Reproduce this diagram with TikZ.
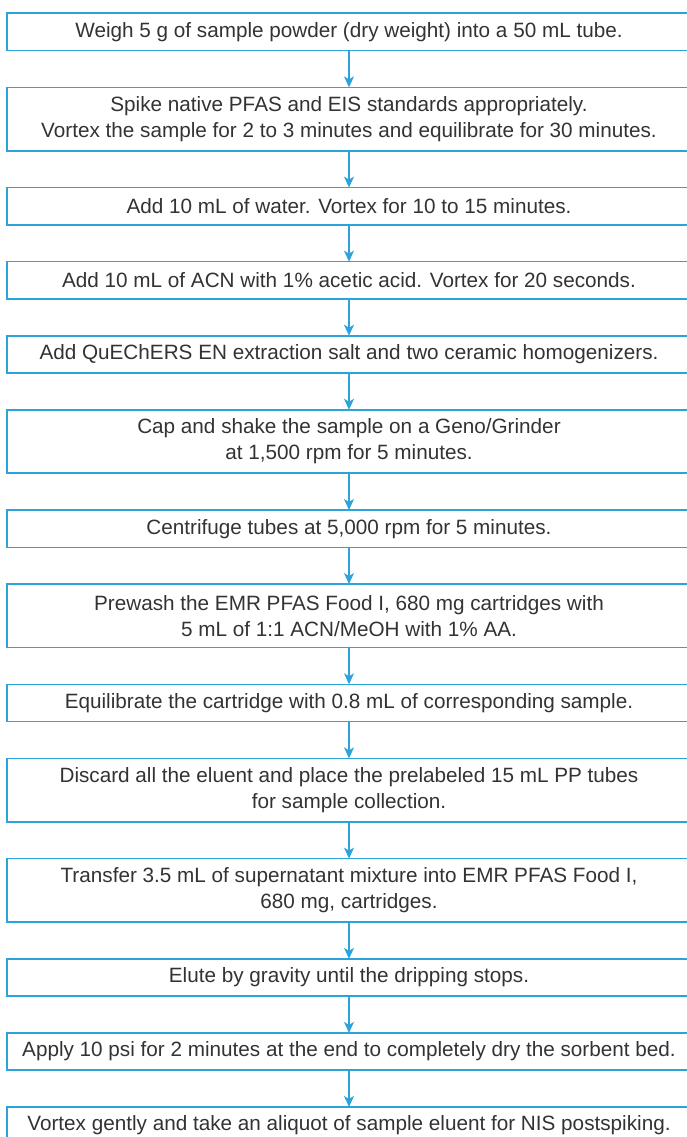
\documentclass[tikz,border=0pt]{standalone}
\usepackage{fontspec}
\setmainfont{Liberation Sans}
\usetikzlibrary{arrows.meta,positioning}
\definecolor{boxblue}{HTML}{2DA3DC}
\definecolor{txtgray}{HTML}{333333}
\begin{document}
\begin{tikzpicture}[x=1pt,y=1pt,
  stepbox/.style={draw=boxblue, line width=1.6pt, fill=white, text=txtgray,
    minimum width=684pt, align=center, inner sep=0pt, outer sep=0pt,
    font=\fontsize{20.7}{26}\selectfont},
  one/.style={stepbox, minimum height=37.3pt},
  two/.style={stepbox, minimum height=63.5pt},
  flow/.style={draw=boxblue, line width=1.2pt, -{Stealth[length=11pt,width=10pt,inset=3pt]}}]
\useasboundingbox (0,0) rectangle (686,-1137);
\node[one] (b1) at (349,-31.95) {Weigh 5 g of sample powder (dry weight) into a 50 mL tube.};
\node[two, below=36.75pt of b1] (b2) {Spike native PFAS and EIS standards appropriately.\\Vortex the sample for 2 to 3 minutes and equilibrate for 30 minutes.};
\node[one, below=36.75pt of b2] (b3) {Add 10 mL of water. Vortex for 10 to 15 minutes.};
\node[one, below=36.75pt of b3] (b4) {Add 10 mL of ACN with 1\% acetic acid. Vortex for 20 seconds.};
\node[one, below=36.75pt of b4] (b5) {Add QuEChERS EN extraction salt and two ceramic homogenizers.};
\node[two, below=36.75pt of b5] (b6) {Cap and shake the sample on a Geno/Grinder\\at 1,500 rpm for 5 minutes.};
\node[one, below=36.75pt of b6] (b7) {Centrifuge tubes at 5,000 rpm for 5 minutes.};
\node[two, below=36.75pt of b7] (b8) {Prewash the EMR PFAS Food I, 680 mg cartridges with\\5 mL of 1:1 ACN/MeOH with 1\% AA.};
\node[one, below=36.75pt of b8] (b9) {Equilibrate the cartridge with 0.8 mL of corresponding sample.};
\node[two, below=36.75pt of b9] (b10) {Discard all the eluent and place the prelabeled 15 mL PP tubes\\for sample collection.};
\node[two, below=36.75pt of b10] (b11) {Transfer 3.5 mL of supernatant mixture into EMR PFAS Food I,\\680 mg, cartridges.};
\node[one, below=36.75pt of b11] (b12) {Elute by gravity until the dripping stops.};
\node[one, below=36.75pt of b12] (b13) {Apply 10 psi for 2 minutes at the end to completely dry the sorbent bed.};
\node[one, below=36.75pt of b13] (b14) {Vortex gently and take an aliquot of sample eluent for NIS postspiking.};
\foreach \a/\b in {b1/b2,b2/b3,b3/b4,b4/b5,b5/b6,b6/b7,b7/b8,b8/b9,b9/b10,b10/b11,b11/b12,b12/b13,b13/b14}
  \draw[flow] (\a.south) -- (\b.north);
\end{tikzpicture}
\end{document}
